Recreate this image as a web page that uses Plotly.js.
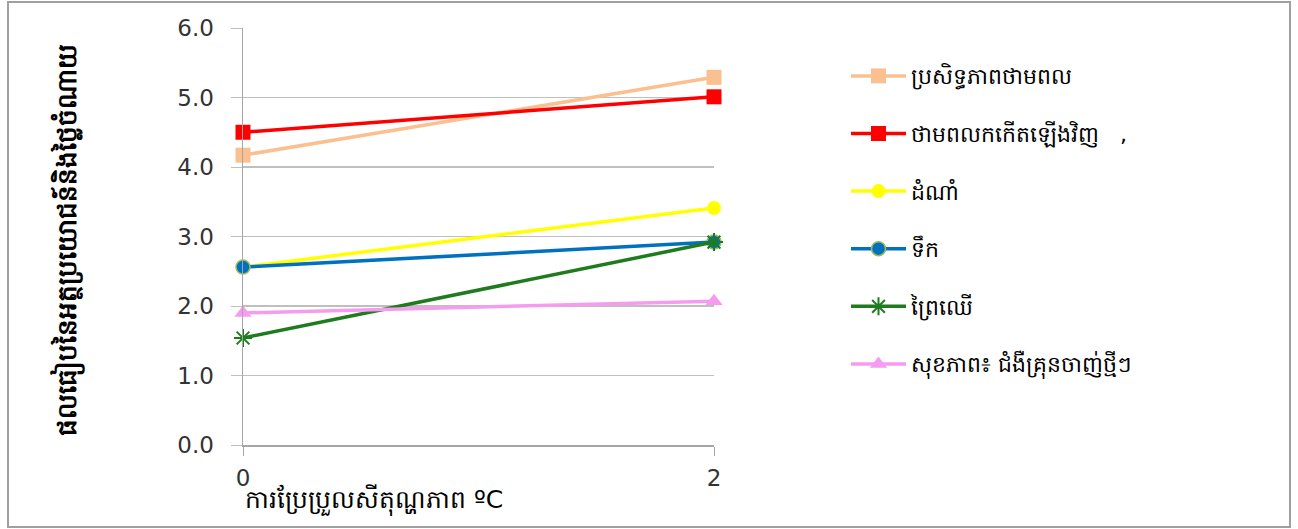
<!DOCTYPE html>
<html>
<head>
<meta charset="utf-8">
<script src="https://cdn.plot.ly/plotly-3.0.1.min.js"></script>
<style>html,body{margin:0;padding:0;background:#fff;}#chart{width:1298px;height:529px;}</style>
</head>
<body>
<div id="chart"></div>
<script>
const xValues = [0, 2];
const seriesNames = [
  "ប្រសិទ្ធភាពថាមពល",
  "ថាមពលកកើតឡើងវិញ   ,",
  "ដំណាំ",
  "ទឹក",
  "ព្រៃឈើ",
  "សុខភាព៖ ជំងឺគ្រុនចាញ់ថ្មីៗ"
];
const energyEfficiency = [4.17, 5.29];
const renewableEnergy = [4.50, 5.01];
const crops = [2.56, 3.41];
const water = [2.56, 2.92];
const forestry = [1.54, 2.92];
const health = [1.90, 2.07];
const yTicks = [0, 1, 2, 3, 4, 5, 6];
const yTickLabels = ["0.0", "1.0", "2.0", "3.0", "4.0", "5.0", "6.0"];
const xTickLabels = ["0", "2"];
const xTitle = "ការប្រែប្រួលសីតុណ្ហភាព ºC";
const yTitle = "ផលធៀបនៃអត្ថប្រយោជន៍និងថ្លៃចំណាយ";

const styles = [
  {color: "#FAC090", symbol: "square", size: 15, lineColor: "#FAC090", lw: 0},
  {color: "#FF0000", symbol: "square", size: 15, lineColor: "#FF0000", lw: 0},
  {color: "#FFFF00", symbol: "circle", size: 14, lineColor: "#FFFF00", lw: 0},
  {color: "#0070C0", symbol: "circle", size: 14, lineColor: "#9BBB59", lw: 1.5},
  {color: "#1E7B1E", symbol: "asterisk-open", size: 15, lineColor: "#1E7B1E", lw: 2},
  {color: "#F59CF0", symbol: "triangle-up", size: 15, lineColor: "#F59CF0", lw: 0}
];
const values = [energyEfficiency, renewableEnergy, crops, water, forestry, health];

const traces = values.map((v, i) => ({
  type: "scatter",
  mode: "lines+markers",
  x: xValues,
  y: v,
  name: seriesNames[i],
  legendgroup: "g" + i,
  line: {color: styles[i].color, width: 3.5},
  marker: {
    color: styles[i].color,
    symbol: styles[i].symbol,
    size: styles[i].size,
    line: {color: styles[i].lineColor, width: styles[i].lw}
  },
  cliponaxis: false
}));

const layout = {
  width: 1298,
  height: 529,
  margin: {l: 243, r: 584, t: 28, b: 84},
  paper_bgcolor: "#ffffff",
  plot_bgcolor: "#ffffff",
  showlegend: true,
  font: {family: "DejaVu Sans, Noto Sans, sans-serif", color: "#000"},
  xaxis: {
    range: [0, 2],
    tickvals: xValues,
    ticktext: xTickLabels,
    showgrid: false,
    zeroline: false,
    showline: true,
    linecolor: "#A6A6A6",
    linewidth: 1.5,
    ticks: "outside",
    ticklen: 9,
    tickcolor: "#A6A6A6",
    tickfont: {size: 23, color: "#333333", family: "DejaVu Sans, sans-serif"},
    ticklabelstandoff: 3,
    fixedrange: true
  },
  yaxis: {
    range: [0, 6],
    tickvals: yTicks,
    ticktext: yTickLabels,
    showgrid: true,
    gridcolor: "#BFBFBF",
    gridwidth: 1.5,
    zeroline: false,
    showline: true,
    linecolor: "#A6A6A6",
    linewidth: 1.5,
    ticks: "outside",
    ticklen: 11,
    tickcolor: "#BFBFBF",
    tickfont: {size: 23, color: "#333333", family: "DejaVu Sans, sans-serif"},
    ticklabelstandoff: 12,
    fixedrange: true
  },
  legend: {
    x: (846 - 243) / 471,
    y: 0.935,
    xanchor: "left",
    yanchor: "top",
    font: {size: 22, color: "#000"},
    tracegroupgap: 26,
    itemwidth: 55,
    bgcolor: "rgba(0,0,0,0)"
  },
  annotations: [
    {
      text: xTitle,
      xref: "paper", yref: "paper",
      x: (243 - 243) / 471, y: (445 - 500) / 417,
      xanchor: "left", yanchor: "middle",
      showarrow: false,
      font: {size: 25, color: "#000"}
    },
    {
      text: "<b>" + yTitle + "</b>",
      xref: "paper", yref: "paper",
      x: (68 - 243) / 471, y: (445 - 240) / 417,
      xanchor: "center", yanchor: "middle",
      textangle: -90,
      showarrow: false,
      font: {size: 26, color: "#000"}
    }
  ],
  shapes: [
    {
      type: "rect",
      xref: "paper", yref: "paper",
      x0: (8 - 243) / 471, x1: (1290 - 243) / 471,
      y0: (445 - 527) / 417, y1: (445 - 2) / 417,
      line: {color: "#A0A0A0", width: 2},
      fillcolor: "rgba(0,0,0,0)",
      layer: "below"
    }
  ]
};

Plotly.newPlot("chart", traces, layout, {displayModeBar: false, staticPlot: true});
</script>
</body>
</html>
